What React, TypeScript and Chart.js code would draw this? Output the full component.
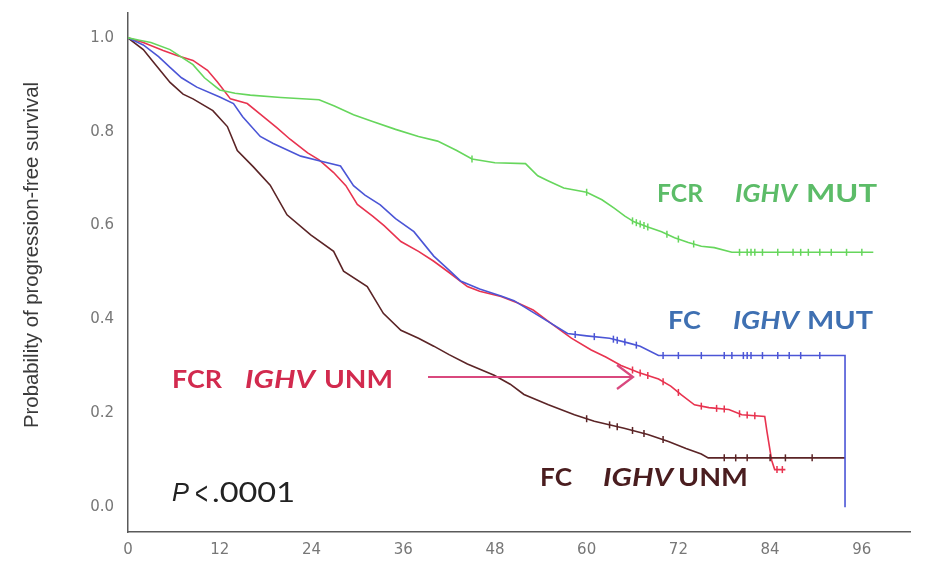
import React, { useEffect, useRef } from "react";
import { Chart, registerables } from "chart.js";

Chart.register(...registerables);

const xTickValues = [0, 12, 24, 36, 48, 60, 72, 84, 96];
const yTickValues = [0, 0.2, 0.4, 0.6, 0.8, 1.0];

// FCR IGHV MUT
const fcrMutMonths = [0, 1.5, 3, 5.5, 8.5, 10, 12, 14, 16, 20, 25, 27, 29.5, 32, 35, 38, 40.5, 43, 45, 48, 52, 53.6, 55, 57, 60, 62, 63.6, 65, 66.2, 68, 69.8, 71.5, 73.3, 75, 76.7, 79, 97.5];
const fcrMutSurvival = [1.0, 0.995, 0.99, 0.975, 0.943, 0.915, 0.889, 0.882, 0.878, 0.873, 0.868, 0.855, 0.836, 0.822, 0.805, 0.79, 0.78, 0.76, 0.742, 0.734, 0.732, 0.706, 0.695, 0.68, 0.671, 0.655, 0.637, 0.62, 0.608, 0.597, 0.587, 0.574, 0.564, 0.556, 0.553, 0.543, 0.543];
const fcrMutCensored = [45, 60, 66, 66.5, 67, 67.5, 68, 70.5, 72, 74, 80, 81, 81.5, 82, 83, 85, 87, 88, 89, 90.5, 92, 94, 96];

// FC IGHV MUT
const fcMutMonths = [0, 2, 4, 5.5, 7, 9, 12, 13.8, 15, 17.3, 19, 22.6, 25, 27.8, 29.5, 31, 33, 35, 37.4, 40, 42, 43.5, 46, 48.8, 50.5, 53, 55.3, 57.5, 60, 63, 65.4, 67, 69.4, 93.8, 93.8];
const fcMutSurvival = [1.0, 0.985, 0.96, 0.937, 0.915, 0.895, 0.874, 0.86, 0.832, 0.79, 0.775, 0.748, 0.738, 0.727, 0.685, 0.665, 0.644, 0.615, 0.587, 0.535, 0.505, 0.482, 0.465, 0.45, 0.44, 0.415, 0.392, 0.37, 0.365, 0.36, 0.35, 0.343, 0.323, 0.323, 0.0];
const fcMutCensored = [58.5, 61, 63.5, 64, 65, 66.5, 70, 72, 75, 78, 79, 80.5, 81, 81.5, 83, 85, 86.5, 88, 90.5];

// FCR IGHV UNM
const fcrUnmMonths = [0, 2, 4.6, 6.5, 8.5, 10.4, 11.7, 13.4, 15.6, 17.7, 19.5, 21.2, 23.5, 25, 26.9, 28.5, 30, 32, 33.5, 35.7, 38, 40, 42, 44.4, 46, 48.8, 51, 53, 55.3, 58, 60.6, 62.5, 64.5, 66.8, 69.4, 71, 72.4, 74.1, 76, 78.6, 80.3, 83.3, 83.6, 84.2, 84.6, 86];
const fcrUnmSurvival = [1.0, 0.99, 0.973, 0.962, 0.952, 0.931, 0.906, 0.87, 0.86, 0.832, 0.808, 0.784, 0.755, 0.74, 0.713, 0.685, 0.645, 0.62, 0.6, 0.566, 0.545, 0.524, 0.5, 0.47, 0.46, 0.449, 0.435, 0.42, 0.392, 0.36, 0.335, 0.32, 0.302, 0.287, 0.273, 0.258, 0.239, 0.218, 0.212, 0.208, 0.197, 0.193, 0.16, 0.1, 0.08, 0.08];
const fcrUnmCensored = [66, 67, 68, 70, 72, 75, 77, 78, 80, 81, 82, 84.9, 85.6];

// FC IGHV UNM
const fcUnmMonths = [0, 2, 3.5, 5.5, 7.2, 8.5, 11.1, 13, 14.3, 16.4, 18.6, 20.8, 23.9, 26.9, 28.2, 31.3, 33.4, 35.7, 38, 40, 42, 44.4, 47.9, 50, 51.8, 55, 58.4, 61, 64.9, 68, 70.7, 73, 75, 75.9, 93.8];
const fcUnmSurvival = [1.0, 0.975, 0.945, 0.905, 0.88, 0.87, 0.845, 0.811, 0.76, 0.725, 0.686, 0.623, 0.58, 0.545, 0.503, 0.47, 0.413, 0.377, 0.36, 0.343, 0.325, 0.305, 0.281, 0.262, 0.24, 0.218, 0.197, 0.183, 0.168, 0.155, 0.14, 0.125, 0.113, 0.105, 0.105];
const fcUnmCensored = [60, 63, 64, 66, 67.5, 70, 78, 79.5, 81, 84, 86, 89.5];

const yAxisTitle = "Probability of progression-free survival";

function survivalAt(months: number[], surv: number[], t: number) {
  for (let i = 1; i < months.length; i++) {
    if (t <= months[i]) {
      const a = months[i - 1];
      const b = months[i];
      if (b === a) return surv[i - 1];
      return surv[i - 1] + ((surv[i] - surv[i - 1]) * (t - a)) / (b - a);
    }
  }
  return surv[surv.length - 1];
}

function curve(label: string, months: number[], surv: number[], color: string) {
  return {
    type: "line" as const,
    label,
    data: months.map((m, i) => ({ x: m, y: surv[i] })),
    borderColor: color,
    backgroundColor: color,
    borderWidth: 1.6,
    tension: 0,
    pointRadius: 0,
    fill: false,
  };
}

function censor(label: string, months: number[], surv: number[], cens: number[], color: string) {
  return {
    type: "line" as const,
    label,
    data: cens.map((c) => ({ x: c, y: survivalAt(months, surv, c) })),
    showLine: false,
    borderColor: color,
    backgroundColor: color,
    pointStyle: "line" as const,
    rotation: 90,
    pointRadius: 3.5,
    pointBorderWidth: 1.5,
  };
}

function fitText(ctx: CanvasRenderingContext2D, text: string, x: number, y: number, w: number, font: string, color: string) {
  ctx.save();
  ctx.font = font;
  const m = ctx.measureText(text).width;
  ctx.translate(x, y);
  ctx.scale(w / m, 1);
  ctx.fillStyle = color;
  ctx.textBaseline = "middle";
  ctx.textAlign = "left";
  ctx.fillText(text, 0, 0);
  ctx.restore();
}

const annotations = {
  id: "kmAnnotations",
  afterDraw(chart: any) {
    const ctx: CanvasRenderingContext2D = chart.ctx;
    const B = "bold 24px Lato";
    const BI = "italic bold 24px Lato";
    // FCR IGHV MUT
    fitText(ctx, "FCR", 657, 194, 46, B, "#5cbc68");
    fitText(ctx, "IGHV", 735, 194, 62, BI, "#5cbc68");
    fitText(ctx, "MUT", 806, 194, 71, B, "#5cbc68");
    // FC IGHV MUT
    fitText(ctx, "FC", 668, 321, 33, B, "#3f70b2");
    fitText(ctx, "IGHV", 733, 321, 66, BI, "#3f70b2");
    fitText(ctx, "MUT", 807, 321, 66, B, "#3f70b2");
    // FCR IGHV UNM
    fitText(ctx, "FCR", 172, 380, 50, B, "#d22a4e");
    fitText(ctx, "IGHV", 245, 380, 70, BI, "#d22a4e");
    fitText(ctx, "UNM", 324, 380, 69, B, "#d22a4e");
    // FC IGHV UNM
    fitText(ctx, "FC", 540, 478, 32, B, "#4a1d1f");
    fitText(ctx, "IGHV", 603, 478, 70, BI, "#4a1d1f");
    fitText(ctx, "UNM", 678, 478, 70, B, "#4a1d1f");
    // P value
    fitText(ctx, "P", 172, 494, 17, "italic 26px 'Liberation Sans'", "#222");
    fitText(ctx, "<", 195, 495, 13, "32px 'Liberation Sans'", "#222");
    fitText(ctx, ".0001", 212, 494, 83, "26px Lato", "#222");

    // arrow
    ctx.save();
    ctx.strokeStyle = "#d9487e";
    ctx.lineWidth = 2.2;
    ctx.beginPath();
    ctx.moveTo(428, 377);
    ctx.lineTo(632, 377);
    ctx.moveTo(617, 365);
    ctx.lineTo(633, 377);
    ctx.lineTo(617, 389);
    ctx.stroke();
    ctx.restore();

    // y-axis title
    ctx.save();
    ctx.translate(32, 255);
    ctx.rotate(-Math.PI / 2);
    ctx.font = "20px 'Liberation Sans'";
    const m = ctx.measureText(yAxisTitle).width;
    ctx.scale(346 / m, 1);
    ctx.fillStyle = "#3a3a3a";
    ctx.textAlign = "center";
    ctx.textBaseline = "middle";
    ctx.fillText(yAxisTitle, 0, 0);
    ctx.restore();
  },
};

export default function App() {
  const ref = useRef<HTMLCanvasElement | null>(null);

  useEffect(() => {
    if (!ref.current) return;
    const green = "#66d65c";
    const blue = "#4b55d6";
    const red = "#e8334f";
    const brown = "#5b2426";
    const chart = new Chart(ref.current, {
      type: "line",
      data: {
        datasets: [
          curve("FCR IGHV MUT", fcrMutMonths, fcrMutSurvival, green),
          censor("FCR IGHV MUT censored", fcrMutMonths, fcrMutSurvival, fcrMutCensored, green),
          curve("FC IGHV MUT", fcMutMonths, fcMutSurvival, blue),
          censor("FC IGHV MUT censored", fcMutMonths, fcMutSurvival, fcMutCensored, blue),
          curve("FC IGHV UNM", fcUnmMonths, fcUnmSurvival, brown),
          censor("FC IGHV UNM censored", fcUnmMonths, fcUnmSurvival, fcUnmCensored, brown),
          curve("FCR IGHV UNM", fcrUnmMonths, fcrUnmSurvival, red),
          censor("FCR IGHV UNM censored", fcrUnmMonths, fcrUnmSurvival, fcrUnmCensored, red),
        ] as any,
      },
      options: {
        animation: false,
        responsive: false,
        devicePixelRatio: 1,
        layout: { padding: { top: 5, right: 22, bottom: 0, left: 0 } },
        plugins: { legend: { display: false }, tooltip: { enabled: false } },
        scales: {
          x: {
            type: "linear",
            min: 0,
            max: 102.3,
            afterBuildTicks: (s: any) => {
              s.ticks = xTickValues.map((v) => ({ value: v }));
            },
            afterFit: (s: any) => {
              s.height = 33;
            },
            grid: { display: false, drawOnChartArea: false, drawTicks: true, tickLength: 6, tickColor: "#666", tickWidth: 1.5 } as any,
            border: { display: true, color: "#5a5a5a", width: 1.5 },
            ticks: {
              padding: 3,
              color: "#777",
              font: { family: "'DejaVu Sans'", size: 15 },
              maxRotation: 0,
              callback: (v: any) => String(v),
            },
          },
          y: {
            type: "linear",
            min: -0.053,
            max: 1.053,
            afterBuildTicks: (s: any) => {
              s.ticks = yTickValues.map((v) => ({ value: v }));
            },
            afterFit: (s: any) => {
              s.width = 128;
            },
            grid: { display: false, drawOnChartArea: false, drawTicks: true, tickLength: 10, tickColor: "#666", tickWidth: 1.5 } as any,
            border: { display: true, color: "#5a5a5a", width: 1.5 },
            ticks: {
              padding: 4,
              color: "#777",
              font: { family: "'DejaVu Sans'", size: 15 },
              callback: (v: any) => Number(v).toFixed(1),
            },
          },
        },
      },
      plugins: [annotations],
    });
    return () => chart.destroy();
  }, []);

  return (
    <div style={{ position: "fixed", left: 0, top: 0, width: 932, height: 565, background: "#fff" }}>
      <canvas ref={ref} width={932} height={565} style={{ display: "block", width: 932, height: 565 }} />
    </div>
  );
}
